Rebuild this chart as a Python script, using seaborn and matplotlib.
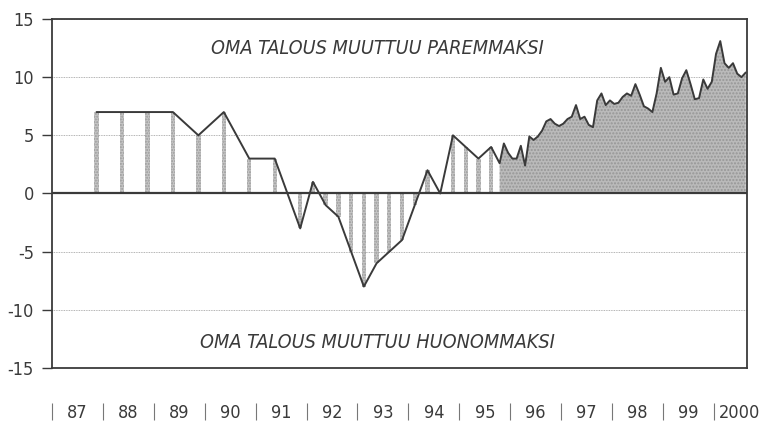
import numpy as np
import pandas as pd
import seaborn as sns
import matplotlib.pyplot as plt
from matplotlib import font_manager

# survey rounds before monthly data (spring/autumn, then quarterly)
early_years = [1987, 1988, 1988, 1989, 1989, 1990, 1990, 1991, 1991,
               1992, 1992, 1992, 1992, 1993, 1993, 1993, 1993,
               1994, 1994, 1994, 1994, 1995, 1995, 1995]
early_months = [11, 5, 11, 5, 11, 5, 11, 5, 11,
                2, 5, 8, 11, 2, 5, 8, 11,
                2, 5, 8, 11, 2, 5, 8]
early_values = [7, 7, 7, 7, 5, 7, 3, 3, -3,
                1, -1, -2, -5, -8, -6, -5, -4,
                -1, 2, 0, 5, 4, 3, 4]

# monthly from Oct 1995 to Aug 2000
monthly_values = [2.6, 4.3, 3.5, 3.0, 3.0, 4.1, 2.4, 4.9, 4.6, 4.9,
                  5.4, 6.2, 6.4, 6.0, 5.8, 6.0, 6.4, 6.6, 7.6, 6.4,
                  6.6, 5.9, 5.7, 8.0, 8.6, 7.6, 8.0, 7.7, 7.8, 8.3,
                  8.6, 8.4, 9.4, 8.5, 7.5, 7.3, 7.0, 8.6, 10.8, 9.6,
                  10.0, 8.5, 8.6, 9.9, 10.6, 9.4, 8.1, 8.2, 9.8, 9.0,
                  9.6, 12.0, 13.1, 11.2, 10.8, 11.2, 10.3, 10.0, 10.4]

year_labels = ['87', '88', '89', '90', '91', '92', '93', '94', '95',
               '96', '97', '98', '99', '2000']
text_up = 'OMA TALOUS MUUTTUU PAREMMAKSI'
text_down = 'OMA TALOUS MUUTTUU HUONOMMAKSI'

early = pd.DataFrame({'year': early_years, 'month': early_months, 'value': early_values})
early['t'] = early['year'] + (early['month'] - 0.5) / 12
mon_months = np.arange(len(monthly_values))
monthly = pd.DataFrame({'value': monthly_values})
monthly['t'] = 1995 + (10 + mon_months - 0.5) / 12
allpts = pd.concat([early[['t', 'value']], monthly[['t', 'value']]], ignore_index=True)

sns.set_theme(style='white')
names = {f.name for f in font_manager.fontManager.ttflist}
fam = 'Liberation Sans Narrow' if 'Liberation Sans Narrow' in names else 'DejaVu Sans'
plt.rcParams['font.family'] = [fam, 'DejaVu Sans']
plt.rcParams['font.stretch'] = 'condensed'
plt.rcParams['axes.unicode_minus'] = False

dark = '#3a3a3a'
fig = plt.figure(figsize=(7.61, 4.21), dpi=100)
ax = fig.add_axes([0.0683, 0.1259, 0.9133, 0.829])

ax.bar(early['t'], early['value'], width=0.085, color='#c6c6c6',
       hatch='......', edgecolor='#9a9a9a', linewidth=0, zorder=2)
ax.fill_between(monthly['t'], 0, monthly['value'], facecolor='#bababa',
                hatch='.....', edgecolor='#969696', linewidth=0, zorder=2)
ax.axhline(0, color=dark, lw=1.6, zorder=3)
sns.lineplot(data=allpts, x='t', y='value', ax=ax, color=dark, lw=1.4,
             sort=False, zorder=4)

ax.set_xlim(1987, 2000.65)
ax.set_ylim(-15, 15)
ax.set_yticks([-15, -10, -5, 0, 5, 10, 15])
ax.set_xticks([])
ax.set_xlabel('')
ax.set_ylabel('')
ax.yaxis.grid(True, linestyle=(0, (1, 1)), color='#9a9a9a', lw=0.6)
ax.set_axisbelow(True)
ax.tick_params(axis='y', direction='out', length=7, width=1, color=dark,
               pad=6, labelsize=13, labelcolor=dark, left=True)
for s in ax.spines.values():
    s.set_color(dark)
    s.set_linewidth(1.3)

ax.text(1993.4, 12.5, text_up, ha='center', va='center', style='italic',
        fontsize=14.2, color=dark)
ax.text(1993.4, -12.8, text_down, ha='center', va='center', style='italic',
        fontsize=14.2, color=dark)

sec = ax.secondary_xaxis(-0.1003)
sec.spines['bottom'].set_visible(False)
sec.set_xticks(np.arange(1987, 2001))
sec.set_xticklabels([])
sec.set_xticks(np.arange(1987, 2001) + 0.5, minor=True)
sec.set_xticklabels(year_labels, minor=True)
sec.tick_params(axis='x', which='major', direction='out', length=12, width=0.8,
                color='#777777', bottom=True)
sec.tick_params(axis='x', which='minor', length=0, pad=1, labelsize=13,
                labelcolor=dark)

plt.savefig('out.png', dpi=100)
